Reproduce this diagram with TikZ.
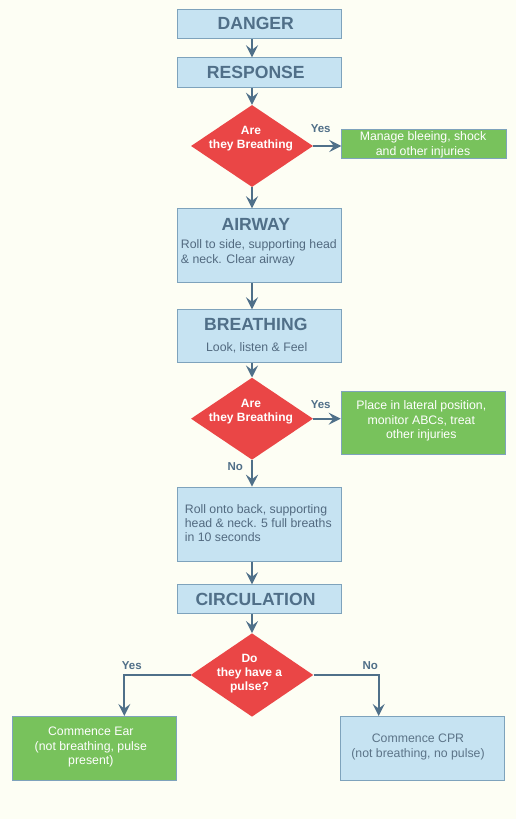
\documentclass[tikz,border=0pt]{standalone}
\usepackage{fontspec}
\setmainfont{Liberation Sans}
\usetikzlibrary{shapes.geometric,arrows.meta}
\definecolor{bg}{HTML}{FDFEF4}
\definecolor{boxfill}{HTML}{C6E3F2}
\definecolor{boxline}{HTML}{7EA3BC}
\definecolor{titlecol}{HTML}{506F88}
\definecolor{bodycol}{HTML}{526A80}
\definecolor{cprcol}{HTML}{5C7488}
\definecolor{redfill}{HTML}{EA4646}
\definecolor{greenfill}{HTML}{78C25C}
\definecolor{arrowcol}{HTML}{4F7089}
\begin{document}
\begin{tikzpicture}[x=1pt,y=-1pt,
  bluebox/.style={rectangle, draw=boxline, fill=boxfill, line width=1.1pt, inner sep=0pt, anchor=north west},
  greenbox/.style={rectangle, draw=boxline, fill=greenfill, line width=1.1pt, inner sep=0pt, anchor=north west},
  decision/.style={diamond, fill=redfill, inner sep=0pt, minimum width=122, minimum height=82},
  titletext/.style={text=titlecol, font=\fontsize{17.6}{20}\selectfont\bfseries, inner sep=0pt},
  bodytext/.style={text=bodycol, font=\fontsize{12.3}{14.3}\selectfont, inner sep=0pt, align=left},
  whitetext/.style={text=white, font=\fontsize{12.3}{14.3}\selectfont, inner sep=0pt, align=center},
  dectext/.style={text=white, font=\fontsize{12}{14}\selectfont\bfseries, inner sep=0pt, align=center},
  lbl/.style={text=titlecol, font=\fontsize{11.5}{13}\selectfont\bfseries, inner sep=0pt},
  arr/.style={draw=arrowcol, line width=2.2pt, -{Stealth[length=12pt,width=12pt,inset=4.5pt]}}
]
\fill[bg] (0,0) rectangle (516,819);
\useasboundingbox (0,0) rectangle (516,819);

% boxes
\node[bluebox, minimum width=164, minimum height=29] (danger) at (177,9) {};
\node[titletext] (dangert) at (255.8,23.7) {DANGER};
\node[bluebox, minimum width=164, minimum height=29.4] (response) at (177,57.3) {};
\node[titletext] (responset) at (255.8,72) {RESPONSE};

\node[decision] (d1) at (252,146) {};
\node[dectext] (d1t) at (251,139) {Are\\they Breathing};
\node[greenbox, minimum width=164.4, minimum height=29] (g1) at (341.3,129.3) {};
\node[whitetext] (g1t) at (423,144.7) {Manage bleeing, shock\\and other injuries};
\node[lbl] (yes1) at (320.7,128.7) {Yes};

\node[bluebox, minimum width=164, minimum height=74] (airway) at (177,208.3) {};
\node[titletext] (airwayt) at (255.8,224) {AIRWAY};
\node[bodytext, anchor=west] (airwayb) at (180.7,252.9) {Roll to side, supporting head\\\& neck. Clear airway};

\node[bluebox, minimum width=164, minimum height=52.4] (breathing) at (177,309.3) {};
\node[titletext] (breathingt) at (255.8,324) {BREATHING};
\node[bodytext] (breathingb) at (256.7,347.7) {Look, listen \& Feel};

\node[decision] (d2) at (252,418.7) {};
\node[dectext] (d2t) at (251,412) {Are\\they Breathing};
\node[greenbox, minimum width=164, minimum height=63.6] (g2) at (340.7,390.7) {};
\node[whitetext] (g2t) at (421.3,421) {Place in lateral position,\\monitor ABCs, treat\\other injuries};
\node[lbl] (yes2) at (320.7,404.7) {Yes};
\node[lbl] (no2) at (235.2,466.2) {No};

\node[bluebox, minimum width=164, minimum height=74] (rollback) at (177,486.7) {};
\node[bodytext, anchor=west] (rollbackb) at (184.7,523) {Roll onto back, supporting\\head \& neck. 5 full breaths\\in 10 seconds};

\node[bluebox, minimum width=164, minimum height=29] (circ) at (176.5,584.3) {};
\node[titletext] (circt) at (255.5,599.5) {CIRCULATION};

\node[decision, minimum width=122.6, minimum height=83.4] (d3) at (252,675) {};
\node[dectext] (d3t) at (249.5,674.1) {Do\\they have a\\pulse?};

\node[greenbox, minimum width=164, minimum height=64.3] (g3) at (11.7,716) {};
\node[whitetext] (g3t) at (90.8,747.2) {Commence Ear\\(not breathing, pulse\\present)};
\node[bluebox, minimum width=164, minimum height=64.3] (cpr) at (340.3,716) {};
\node[text=cprcol, font=\fontsize{12.3}{14.3}\selectfont, inner sep=0pt, align=center] (cprt) at (418,747) {Commence CPR\\(not breathing, no pulse)};
\node[lbl] (yes3) at (131.8,665.7) {Yes};
\node[lbl] (no3) at (370.3,665.7) {No};

\coordinate (yesturn) at (124.3,675);
\coordinate (noturn) at (378.7,675);

% connectors
\draw[arr] (danger.south -| d1) -- (response.north -| d1);
\draw[arr] (response.south -| d1) -- (d1.north);
\draw[arr] (d1.south) -- (airway.north -| d1);
\draw[arr] (d1.east) -- (g1.west |- d1.east);
\draw[arr] (airway.south -| d1) -- (breathing.north -| d1);
\draw[arr] (breathing.south -| d2) -- (d2.north);
\draw[arr] (d2.east) -- (g2.west |- d2.east);
\draw[arr] (d2.south) -- (rollback.north -| d2);
\draw[arr] (rollback.south -| d2) -- (circ.north -| d2);
\draw[arr] (circ.south -| d3) -- (d3.north);
\draw[arr] (d3.west) -- (yesturn) -- (yesturn |- g3.north);
\draw[arr] (d3.east) -- (noturn) -- (noturn |- cpr.north);
\end{tikzpicture}
\end{document}
